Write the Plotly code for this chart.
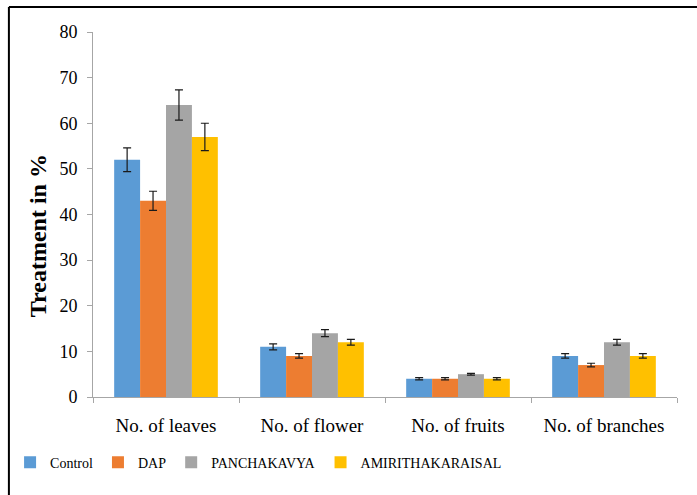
import plotly.graph_objects as go

categories = ["No. of leaves", "No. of flower", "No. of fruits", "No. of branches"]
series_names = ["Control", "DAP", "PANCHAKAVYA", "AMIRITHAKARAISAL"]
control = [52, 11, 4, 9]
dap = [43, 9, 4, 7]
panchakavya = [64, 14, 5, 12]
amirithakaraisal = [57, 12, 4, 9]
control_err = [2.6, 0.65, 0.25, 0.5]
dap_err = [2.1, 0.5, 0.25, 0.4]
panchakavya_err = [3.3, 0.75, 0.2, 0.65]
amirithakaraisal_err = [3.0, 0.65, 0.25, 0.5]
y_ticks = [0, 10, 20, 30, 40, 50, 60, 70, 80]
y_title = "Treatment in %"

colors = ["#5B9BD5", "#ED7D31", "#A5A5A5", "#FFC000"]
values = [control, dap, panchakavya, amirithakaraisal]
errors = [control_err, dap_err, panchakavya_err, amirithakaraisal_err]

FONT = "Liberation Serif"

fig = go.Figure()
for name, vals, errs, col in zip(series_names, values, errors, colors):
    fig.add_trace(go.Bar(
        name=name, x=categories, y=vals, marker=dict(color=col, line=dict(width=0)),
        error_y=dict(type="data", array=errs, visible=True, color="#1a1a1a", thickness=1.2, width=4),
    ))

fig.update_layout(
    width=697, height=495,
    margin=dict(l=93, r=20, t=32, b=98, autoexpand=False),
    paper_bgcolor="white", plot_bgcolor="white",
    barmode="group", bargap=0.29, bargroupgap=0,
    font=dict(family=FONT, size=18, color="black"),
    showlegend=True,
    legend=dict(orientation="h", x=-0.142, xanchor="left", y=-0.18, yanchor="middle",
                font=dict(family=FONT, size=14, color="black"), itemwidth=30,
                bgcolor="rgba(0,0,0,0)", traceorder="normal"),
    xaxis=dict(type="category", showline=True, linecolor="#a6a6a6", linewidth=1,
               ticks="outside", tickson="boundaries", ticklen=5, tickcolor="#a6a6a6",
               showgrid=False, tickfont=dict(family=FONT, size=19, color="black"),
               ticklabelstandoff=11),
    yaxis=dict(range=[0, 80], tickvals=y_ticks, showline=True, linecolor="#a6a6a6", linewidth=1,
               ticks="outside", ticklen=5, tickcolor="#a6a6a6", showgrid=False, zeroline=False,
               tickfont=dict(family=FONT, size=18, color="black"), ticklabelstandoff=6),
    annotations=[
        dict(text="<b>" + y_title + "</b>", xref="paper", yref="paper", x=-0.094, y=0.441,
             xanchor="center", yanchor="middle", textangle=-90, showarrow=False,
             font=dict(family=FONT, size=24, color="black")),
    ],
    shapes=[
        dict(type="line", xref="paper", yref="paper", x0=-0.144, x1=1.05, y0=1.0685, y1=1.0685,
             line=dict(color="black", width=2)),
        dict(type="line", xref="paper", yref="paper", x0=-0.144, x1=-0.144, y0=1.0685, y1=-0.3,
             line=dict(color="black", width=2)),
    ],
)

fig.write_html("out.html", config={"displayModeBar": False},
               post_script="document.body.style.margin='0';document.body.style.overflow='hidden';")
